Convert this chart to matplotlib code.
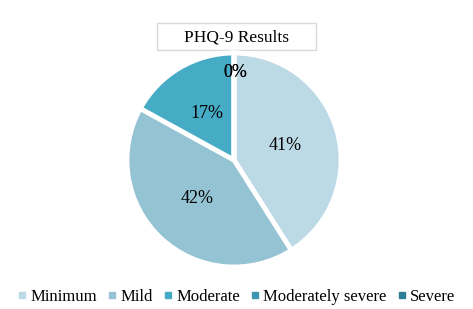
import numpy as np
import matplotlib
matplotlib.use("Agg")
import matplotlib.pyplot as plt

categories = ["Minimum", "Mild", "Moderate", "Moderately severe", "Severe"]
values = [41, 42, 17, 0, 0]
colors = ["#BCDAE6", "#94C3D4", "#46ABC5", "#3C96AE", "#2E7E93"]

plt.rcParams["font.family"] = ["Liberation Serif", "DejaVu Serif"]

fig = plt.figure(figsize=(4.73, 3.09), dpi=100)
ax = fig.add_axes([0.0, 0.0, 1.0, 1.0])
ax.set_xlim(0, 473)
ax.set_ylim(309, 0)
ax.axis("off")

# pie in its own axes, centred on the picture's pie
pax = fig.add_axes([(234 - 107) / 473, 1 - (160 + 107) / 309, 214 / 473, 214 / 309])
wedges, texts, autotexts = pax.pie(
    values, colors=colors, startangle=90, counterclock=False,
    autopct="%d%%", pctdistance=0.5,
    wedgeprops=dict(edgecolor="white", linewidth=3.5),
    textprops=dict(fontsize=13, color="black"))
pax.set_xlim(-1, 1)
pax.set_ylim(-1, 1)
pax.set_aspect("equal")

# zero slices: push the label out near the rim
for w, t, v in zip(wedges, autotexts, values):
    if v == 0:
        ang = np.deg2rad((w.theta1 + w.theta2) / 2)
        t.set_position((0.82 * np.cos(ang) + 0.015, 0.82 * np.sin(ang)))

# title box
ax.add_patch(plt.Rectangle((157, 23), 159, 27, facecolor="white",
                           edgecolor="#D9D9D9", linewidth=1))
ax.text(236.5, 37, "PHQ-9 Results", ha="center", va="center", fontsize=12.5)

handles = [plt.Line2D([], [], marker="s", linestyle="", markersize=4.5,
                      markerfacecolor=c, markeredgecolor=c) for c in colors]
fig.legend(handles, categories, loc="center", bbox_to_anchor=(0.5, 1 - 297 / 309),
           ncol=5, frameon=False, fontsize=12, handletextpad=0.25,
           columnspacing=0.65, handlelength=0.5, borderpad=0.1)

fig.savefig("out.png", dpi=100)
